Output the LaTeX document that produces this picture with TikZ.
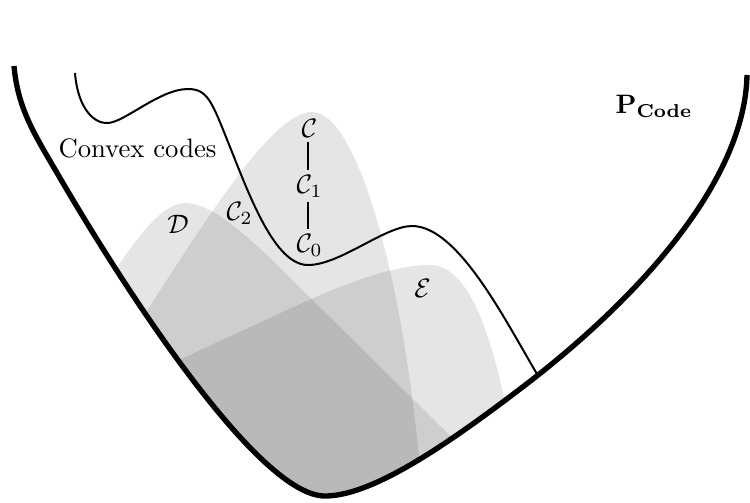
\documentclass[tikz,border=0pt]{standalone}
\usepackage{amsmath,amssymb}
\begin{document}
\begin{tikzpicture}[x=0.375pt,y=-0.375pt,
  region/.style={fill=black,fill opacity=0.1,draw=none},
  outercurve/.style={line width=2pt,line join=round},
  innercurve/.style={line width=0.75pt},
  lbl/.style={anchor=base},
  chain/.style={anchor=base,inner sep=1.5pt},
  link/.style={line width=0.9pt}]
\useasboundingbox (0,0) rectangle (750,502);
% shaded regions, clipped to the inside of the outer curve
\begin{scope}
\clip (14,66) .. controls (18,110) and (35,135) .. (60,178)
  .. controls (130,298) and (260,496) .. (325,496)
  .. controls (370,496) and (440,450) .. (520,389)
  .. controls (640,298) and (745,180) .. (747,75)
  -- (747,0) -- (14,0) -- cycle;
% C region
\fill[region] (120,352) .. controls (200,230) and (270,112) .. (312,112) .. controls (360,112) and (410,300) .. (424,520) -- (424,560) -- (120,560) -- cycle;
% D region
\fill[region] (90,310) .. controls (130,245) and (160,203) .. (185,203) .. controls (210,203) and (240,230) .. (270,258) -- (500,485) -- (500,560) -- (90,560) -- cycle;
% E region
\fill[region] (140,378) -- (300,304) .. controls (360,277) and (400,265) .. (430,265) .. controls (470,265) and (495,340) .. (512,440) -- (512,560) -- (140,560) -- cycle;
\end{scope}
% boundary of convex codes
\draw[innercurve] (75,73) .. controls (78,110) and (95,124) .. (108,123)
  .. controls (125,122) and (160,89) .. (188,89)
  .. controls (208,89) and (212,102) .. (230,147)
  .. controls (250,197) and (275,265) .. (308,265)
  .. controls (340,265) and (385,226) .. (412,226)
  .. controls (458,226) and (505,320) .. (537,374);
% outer curve
\draw[outercurve] (14,66) .. controls (18,110) and (35,135) .. (60,178)
  .. controls (130,298) and (260,496) .. (325,496)
  .. controls (370,496) and (440,450) .. (520,389)
  .. controls (640,298) and (745,180) .. (747,75);
% labels
\node[anchor=base,inner sep=0pt] (conv) at (137.5,157) {Convex codes};
\node[anchor=base west,inner sep=0pt] (P) at (615,113) {$\mathbf{P}_{\mathbf{Code}}$};
\node[chain] (C) at (309.5,137) {$\mathcal{C}$};
\node[chain] (C1) at (309.5,193) {$\mathcal{C}_1$};
\node[chain] (C0) at (309.5,252) {$\mathcal{C}_0$};
\node[lbl] (C2) at (239.5,220) {$\mathcal{C}_2$};
\node[lbl] (D) at (178,233) {$\mathcal{D}$};
\node[lbl] (E) at (422.5,297) {$\mathcal{E}$};
\draw[link] (C.south -| 308,0) -- (C1.north -| 308,0);
\draw[link] (C1.south -| 308,0) -- (C0.north -| 308,0);
\end{tikzpicture}
\end{document}
